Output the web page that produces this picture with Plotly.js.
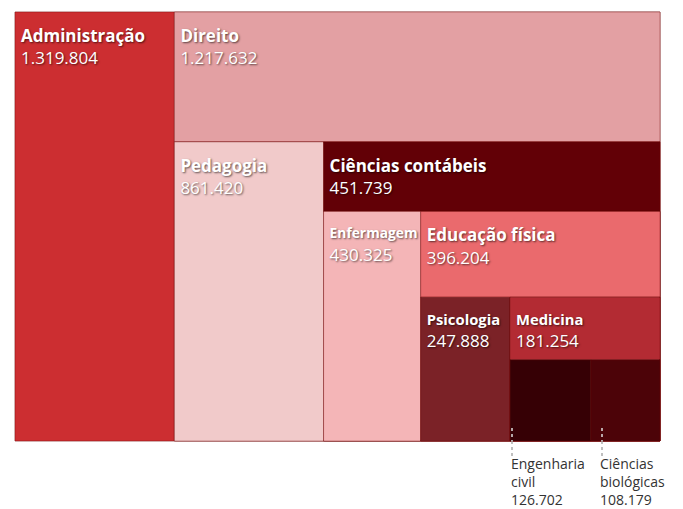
<!DOCTYPE html>
<html><head><meta charset="utf-8">
<script src="https://cdn.plot.ly/plotly-3.0.1.min.js"></script>
<style>html,body{margin:0;padding:0;background:#fff}#chart{width:683px;height:509px}</style>
</head><body><div id="chart"></div>
<script>
// Data
const courses = ["Administração","Direito","Pedagogia","Ciências contábeis","Enfermagem","Educação física","Psicologia","Medicina","Engenharia civil","Ciências biológicas"];
const enrollments = [1319804,1217632,861420,451739,430325,396204,247888,181254,126702,108179];
const colors = ["#cc2e31","#e3a0a3","#f1caca","#620006","#f4b5b7","#ea6a6d","#7b2227","#b32b33","#360005","#4c0308"];
const labelSizes = [17,17,17,17,13.8,17,14.8,14.8,14,14];
const outsideLabels = ["Engenharia<br>civil","Ciências<br>biológicas"];

// Build nested hierarchy (alternating slice/dice spiral)
function build(withText, transparent){
  const ids=[], labels=[], parents=[], values=[], mcolors=[], tmpl=[];
  ids.push("g0"); labels.push(""); parents.push(""); values.push(0); mcolors.push("rgba(0,0,0,0)"); tmpl.push("");
  let parent="g0";
  for(let i=0;i<courses.length;i++){
    ids.push("c"+i); labels.push(courses[i]); parents.push(parent); values.push(enrollments[i]);
    mcolors.push(transparent ? "rgba(0,0,0,0)" : colors[i]);
    tmpl.push(withText && i<courses.length-2 ?
      "<b><span style='font-size:"+labelSizes[i]+"px'>%{label}</span></b><br>%{value:,}" : "");
    if(i<courses.length-2){
      const g="g"+(i+1);
      ids.push(g); labels.push(""); parents.push(parent); values.push(0); mcolors.push("rgba(0,0,0,0)"); tmpl.push("");
      parent=g;
    }
  }
  return {ids,labels,parents,values,mcolors,tmpl};
}

// geometry helpers (pixels -> paper)
const W=683,H=509, M={l:15,r:13,t:2,b:58};
const PW=W-M.l-M.r, PH=H-M.t-M.b;
const px=x=>(x-M.l)/PW, py=y=>(H-M.b-y)/PH;

const fmt = v => v.toString().replace(/\B(?=(\d{3})+(?!\d))/g,".");
const n=courses.length;

function trace(d, domain, lineW){
  return {
    type:"treemap", ids:d.ids, labels:d.labels, parents:d.parents, values:d.values,
    branchvalues:"remainder", sort:false, domain,
    texttemplate:d.tmpl, textposition:"top left",
    tiling:{packing:"slice-dice", pad:0},
    marker:{colors:d.mcolors, pad:{t:0,l:0,r:0,b:0}, line:{color:"rgba(110,0,0,0.35)", width:lineW}},
    pathbar:{visible:false},
    textfont:{family:"Open Sans", size:17, color:"#ffffff", shadow:"1px 1px 2px rgba(0,0,0,0.6)"},
    hoverinfo:"skip"
  };
}
const base = trace(build(false,false), {x:[px(15),px(660)], y:[py(441),py(12)]}, 1);
const txt  = trace(build(true,true),  {x:[px(18),px(663)], y:[py(450),py(21)]}, 0);

const annFont={family:"Open Sans",size:14,color:"#333333"};
const annotations=[
  {x:px(509), y:py(452), xref:"paper", yref:"paper", xanchor:"left", yanchor:"top", align:"left", showarrow:false,
   text: outsideLabels[0]+"<br>"+fmt(enrollments[n-2]), font:annFont},
  {x:px(598), y:py(452), xref:"paper", yref:"paper", xanchor:"left", yanchor:"top", align:"left", showarrow:false,
   text: outsideLabels[1]+"<br>"+fmt(enrollments[n-1]), font:annFont}
];
const shapes=[
  {type:"line", xref:"paper", yref:"paper", x0:px(512), x1:px(512), y0:py(428), y1:py(441), line:{color:"#dddddd", width:1.5, dash:"dot"}},
  {type:"line", xref:"paper", yref:"paper", x0:px(512), x1:px(512), y0:py(441), y1:py(456), line:{color:"#aaaaaa", width:1.5, dash:"dot"}},
  {type:"line", xref:"paper", yref:"paper", x0:px(602), x1:px(602), y0:py(428), y1:py(441), line:{color:"#dddddd", width:1.5, dash:"dot"}},
  {type:"line", xref:"paper", yref:"paper", x0:px(602), x1:px(602), y0:py(441), y1:py(456), line:{color:"#aaaaaa", width:1.5, dash:"dot"}}
];

const layout={
  width:W, height:H, margin:{l:M.l,r:M.r,t:M.t,b:M.b},
  paper_bgcolor:"#ffffff", separators:",.",
  annotations, shapes, showlegend:false
};
Plotly.newPlot("chart",[base, txt],layout,{displayModeBar:false,staticPlot:true});
</script></body></html>
